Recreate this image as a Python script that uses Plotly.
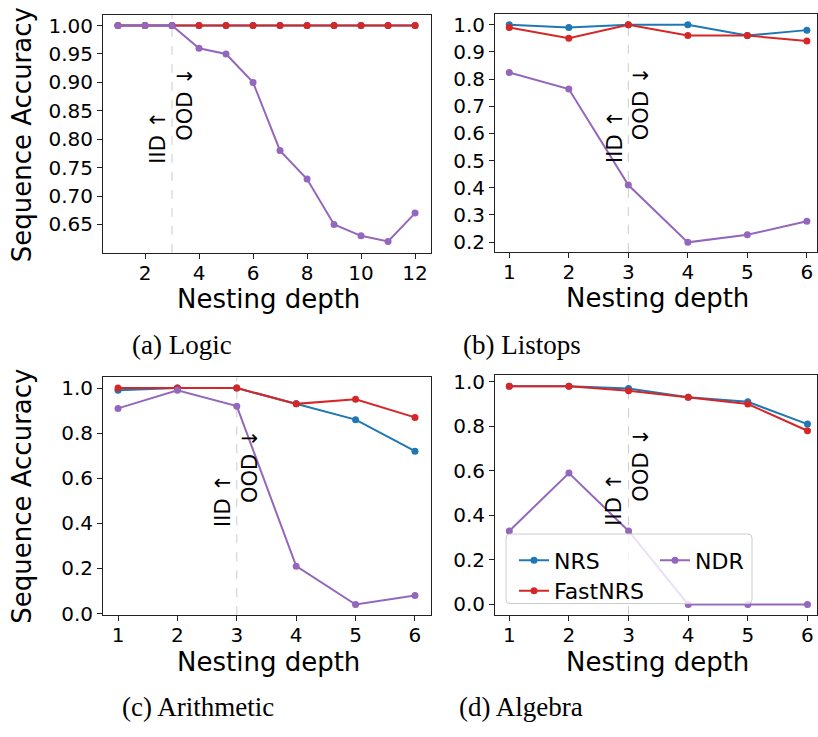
import plotly.graph_objects as go

W, H = 818, 737

# ---------------- data ----------------
depth_logic = [1, 2, 3, 4, 5, 6, 7, 8, 9, 10, 11, 12]
depth = [1, 2, 3, 4, 5, 6]

logic_nrs = [1.0, 1.0, 1.0, 1.0, 1.0, 1.0, 1.0, 1.0, 1.0, 1.0, 1.0, 1.0]
logic_fastnrs = [1.0, 1.0, 1.0, 1.0, 1.0, 1.0, 1.0, 1.0, 1.0, 1.0, 1.0, 1.0]
logic_ndr = [1.0, 1.0, 1.0, 0.96, 0.95, 0.90, 0.78, 0.73, 0.65, 0.63, 0.62, 0.67]

listops_nrs = [1.0, 0.99, 1.0, 1.0, 0.96, 0.98]
listops_fastnrs = [0.99, 0.95, 1.0, 0.96, 0.96, 0.94]
listops_ndr = [0.824, 0.763, 0.41, 0.199, 0.227, 0.277]

arith_nrs = [0.99, 1.0, 1.0, 0.93, 0.86, 0.72]
arith_fastnrs = [1.0, 1.0, 1.0, 0.93, 0.95, 0.87]
arith_ndr = [0.91, 0.99, 0.92, 0.21, 0.04, 0.08]

alg_nrs = [0.98, 0.98, 0.97, 0.93, 0.91, 0.81]
alg_fastnrs = [0.98, 0.98, 0.96, 0.93, 0.90, 0.78]
alg_ndr = [0.33, 0.59, 0.33, 0.0, 0.0, 0.0]

series_names = ["NRS", "FastNRS", "NDR"]
colors = {"NRS": "#1f77b4", "FastNRS": "#d62728", "NDR": "#9467bd"}
captions = ["(a) Logic", "(b) Listops", "(c) Arithmetic", "(d) Algebra"]

panels = [
    (depth_logic, {"NRS": logic_nrs, "FastNRS": logic_fastnrs, "NDR": logic_ndr}),
    (depth, {"NRS": listops_nrs, "FastNRS": listops_fastnrs, "NDR": listops_ndr}),
    (depth, {"NRS": arith_nrs, "FastNRS": arith_fastnrs, "NDR": arith_ndr}),
    (depth, {"NRS": alg_nrs, "FastNRS": alg_fastnrs, "NDR": alg_ndr}),
]

# ---------------- layout geometry (pixels) ----------------
def px(x):
    return x / W

def py(y):
    return (H - y) / H

# (left, top, right, bottom) in pixels
boxes = [(103, 10, 431, 253), (495, 9, 817, 252), (103, 380, 431, 623), (495, 378, 817, 623)]
xranges = [[0.445, 12.59], [0.76, 6.17], [0.747, 6.27], [0.76, 6.16]]
yranges = [[0.60, 1.019], [0.164, 1.04], [-0.008, 1.048], [-0.049, 1.029]]
xticks = [[2, 4, 6, 8, 10, 12], [1, 2, 3, 4, 5, 6], [1, 2, 3, 4, 5, 6], [1, 2, 3, 4, 5, 6]]
yticks = [
    [0.65, 0.70, 0.75, 0.80, 0.85, 0.90, 0.95, 1.00],
    [0.2, 0.3, 0.4, 0.5, 0.6, 0.7, 0.8, 0.9, 1.0],
    [0.0, 0.2, 0.4, 0.6, 0.8, 1.0],
    [0.0, 0.2, 0.4, 0.6, 0.8, 1.0],
]
yfmt = [".2f", ".1f", ".1f", ".1f"]

FONT = "DejaVu Sans"
fig = go.Figure()

legend_map = {"NRS": "legend", "FastNRS": "legend2", "NDR": "legend3"}

for i, (xs, data) in enumerate(panels):
    sfx = "" if i == 0 else str(i + 1)
    for name in series_names:
        fig.add_trace(go.Scatter(
            x=xs, y=data[name], mode="lines+markers", name=name,
            line=dict(color=colors[name], width=2),
            marker=dict(color=colors[name], size=7),
            xaxis="x" + sfx, yaxis="y" + sfx,
            showlegend=(i == 3), legend=legend_map[name],
        ))

layout = dict(
    width=W, height=H, margin=dict(l=0, r=0, t=0, b=0),
    paper_bgcolor="white", plot_bgcolor="white",
    font=dict(family=FONT, color="black"),
)

axis_common = dict(
    showline=True, mirror=True, linecolor="#222", linewidth=1,
    ticks="outside", ticklen=5, tickwidth=1, tickcolor="#222",
    showgrid=False, zeroline=False,
    tickfont=dict(family=FONT, size=20, color="black"),
)

annotations = []
shapes = []
for i in range(4):
    sfx = "" if i == 0 else str(i + 1)
    l, t, r, b = boxes[i]
    layout["xaxis" + sfx] = dict(
        axis_common, domain=[px(l), px(r)], range=xranges[i],
        tickmode="array", tickvals=xticks[i], anchor="y" + sfx,
        ticklabelstandoff=-3,
    )
    layout["yaxis" + sfx] = dict(
        axis_common, domain=[py(b), py(t)], range=yranges[i],
        tickmode="array", tickvals=yticks[i], tickformat=yfmt[i], anchor="x" + sfx,
    )
    # dashed IID/OOD separator
    shapes.append(dict(type="line", xref="x" + sfx, yref="y" + sfx + " domain",
                       x0=3, x1=3, y0=0, y1=1, layer="below",
                       line=dict(color="#cccccc", width=1, dash="dash")))
    annotations.append(dict(text="IID ↑", xref="x" + sfx, yref="y" + sfx + " domain",
                            x=3, y=0.484, xshift=-14, textangle=-90, showarrow=False,
                            font=dict(family=FONT, size=21, color="black")))
    annotations.append(dict(text="OOD ↓", xref="x" + sfx, yref="y" + sfx + " domain",
                            x=3, y=0.626, xshift=13, textangle=-90, showarrow=False,
                            font=dict(family=FONT, size=21, color="black")))
    # x axis title
    annotations.append(dict(text="Nesting depth", xref="paper", yref="paper",
                            x=px((l + r) / 2 + 1), y=py(b + 30), yanchor="top", xanchor="center",
                            showarrow=False, font=dict(family=FONT, size=26, color="black")))

# y titles
for cy in (133, 502):
    annotations.append(dict(text="Sequence Accuracy", xref="paper", yref="paper",
                            x=px(22), y=py(cy), textangle=-90, showarrow=False,
                            xanchor="center", yanchor="middle",
                            font=dict(family=FONT, size=26, color="black")))

# captions
cap_pos = [(182, 347), (522, 347), (198, 717), (521, 717)]
for text, (cx, cy) in zip(captions, cap_pos):
    annotations.append(dict(text=text, xref="paper", yref="paper", x=px(cx), y=py(cy),
                            xanchor="center", yanchor="middle", showarrow=False,
                            font=dict(family="Liberation Serif", size=27, color="black")))

# legend frame (rounded) in panel d
def rounded_rect(x0, y0, x1, y1, rad=4):
    pts = [
        f"M {px(x0 + rad)},{py(y0)}",
        f"L {px(x1 - rad)},{py(y0)}",
        f"Q {px(x1)},{py(y0)} {px(x1)},{py(y0 + rad)}",
        f"L {px(x1)},{py(y1 - rad)}",
        f"Q {px(x1)},{py(y1)} {px(x1 - rad)},{py(y1)}",
        f"L {px(x0 + rad)},{py(y1)}",
        f"Q {px(x0)},{py(y1)} {px(x0)},{py(y1 - rad)}",
        f"L {px(x0)},{py(y0 + rad)}",
        f"Q {px(x0)},{py(y0)} {px(x0 + rad)},{py(y0)}",
        "Z",
    ]
    return " ".join(pts)

shapes.append(dict(type="path", xref="paper", yref="paper", path=rounded_rect(506, 540, 752, 611),
                   fillcolor="rgba(255,255,255,0.8)", line=dict(color="#cccccc", width=1),
                   layer="above"))

legend_common = dict(bgcolor="rgba(0,0,0,0)", borderwidth=0, xanchor="left", yanchor="middle",
                     font=dict(family=FONT, size=22, color="black"), itemclick=False)
layout["legend"] = dict(legend_common, x=px(514), y=py(567))
layout["legend2"] = dict(legend_common, x=px(514), y=py(598))
layout["legend3"] = dict(legend_common, x=px(655), y=py(567))

layout["annotations"] = annotations
layout["shapes"] = shapes
fig.update_layout(**layout)

fig.write_html("out.html")
